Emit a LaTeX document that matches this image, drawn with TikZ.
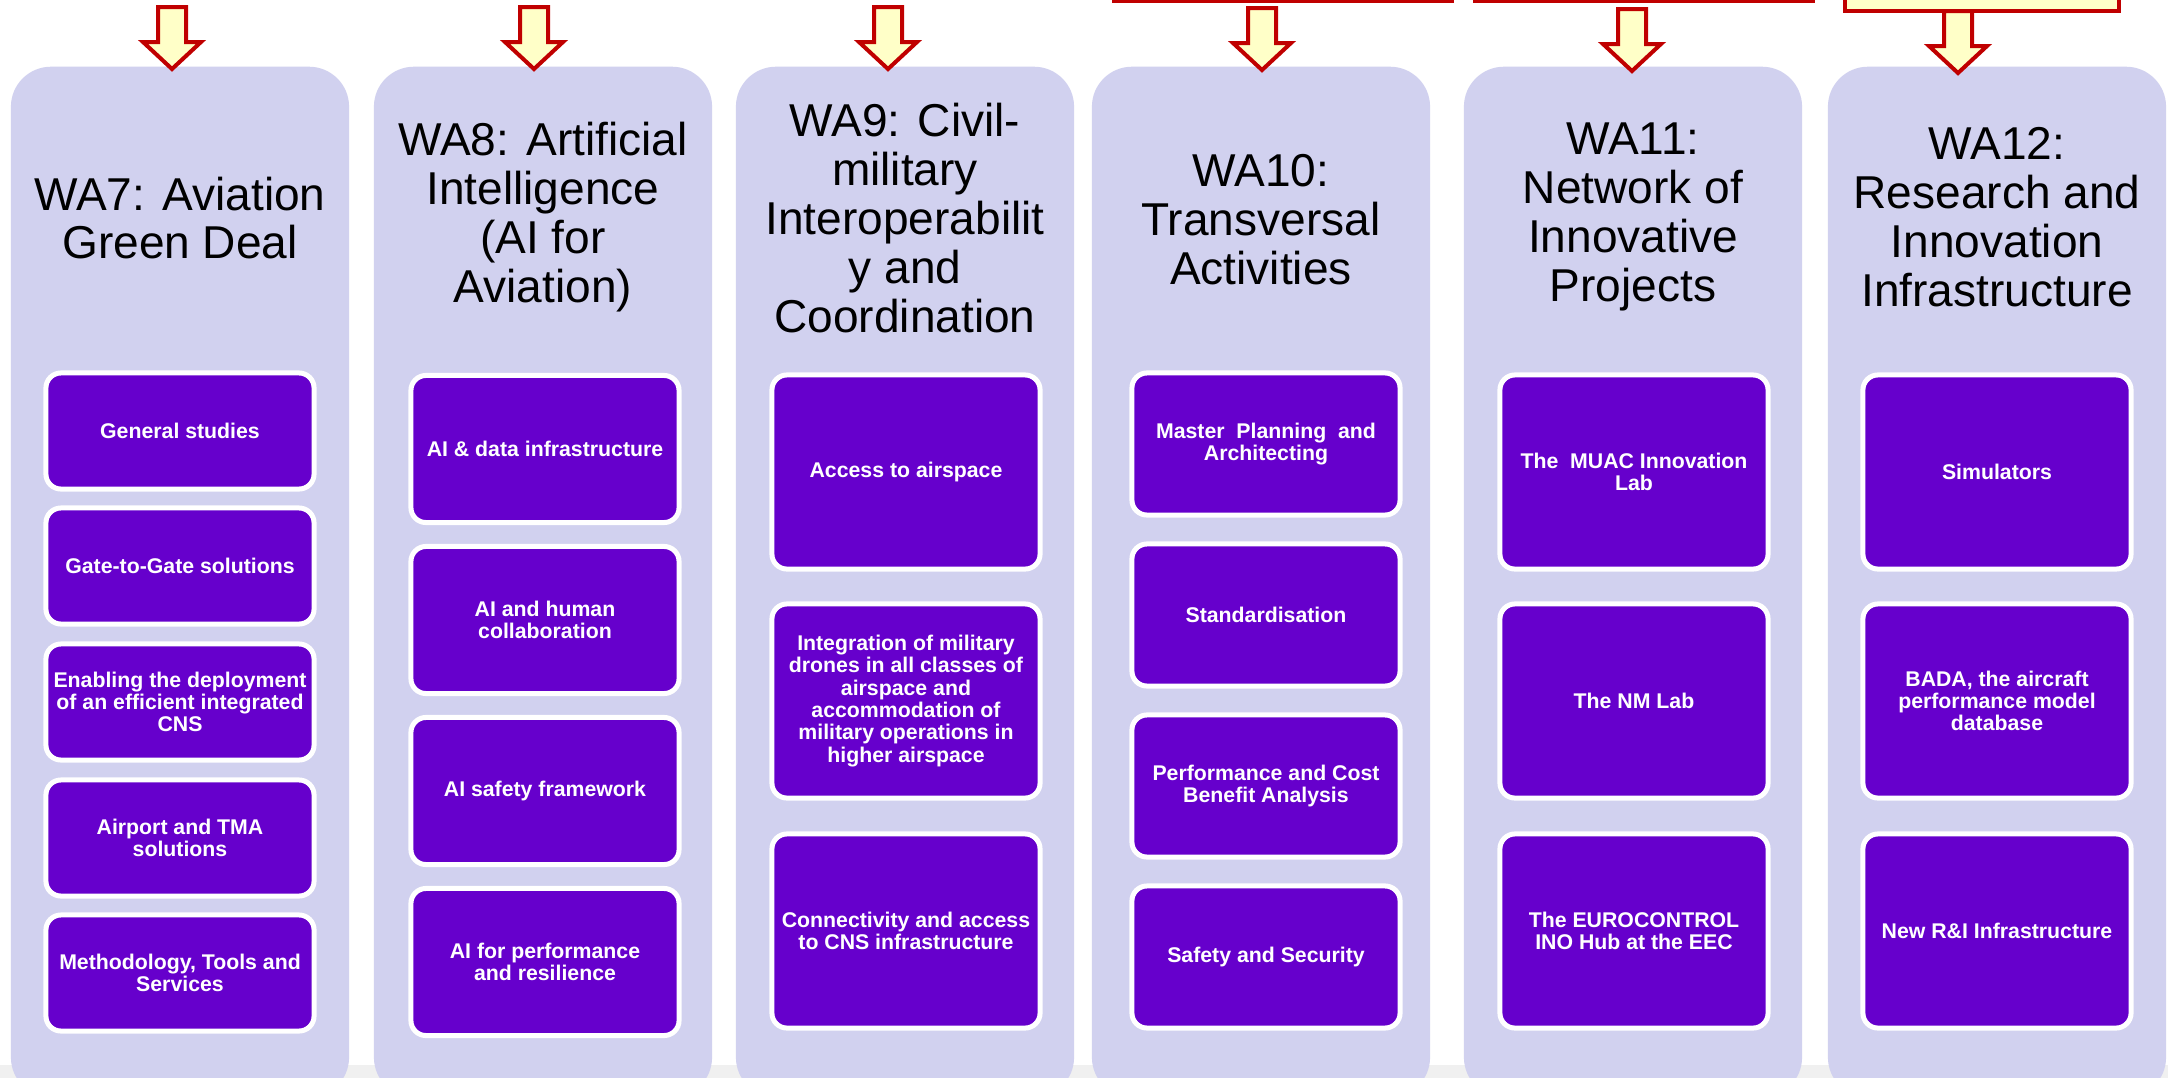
\documentclass[tikz,border=0pt]{standalone}
\usepackage{fontspec}
\setmainfont{Liberation Sans}
\usetikzlibrary{calc}
\definecolor{lavender}{HTML}{D1D1EF}
\definecolor{wapurple}{HTML}{6600CC}
\definecolor{arrowred}{HTML}{C00000}
\definecolor{arrowfill}{HTML}{FFFFC8}
\definecolor{stripgray}{HTML}{F0F0F0}
\tikzset{
  wacol/.style={fill=lavender, rounded corners=0.4cm, inner sep=0pt,
    minimum width=3.38cm, minimum height=10.3cm, anchor=north},
  watitle/.style={align=center, inner sep=0pt,
    font=\fontsize{13.1}{13.9}\selectfont},
  item/.style={fill=wapurple, draw=white, line width=0.05cm, rounded corners=0.15cm,
    minimum width=2.68cm, text=white, align=center, inner sep=1pt,
    font=\bfseries\fontsize{6.05}{6.35}\selectfont},
  topbox/.style={draw=arrowred, line width=0.04cm, minimum width=3.38cm,
    minimum height=0.9cm, anchor=south},
  pics/downarrow/.style={code={
    \draw[arrowred, fill=arrowfill, line width=0.04cm, line join=miter]
      (0,0) -- (-29,-27) -- (-14,-27) -- (-14,-62) -- (14,-62) -- (14,-27) -- (29,-27) -- cycle;
  }}
}
\begin{document}
\begin{tikzpicture}[x=0.01cm, y=-0.01cm]
\useasboundingbox (0,0) rectangle (2168,1078);
\clip (0,0) rectangle (2168,1078);
\fill[white] (0,0) rectangle (2168,1078);
\fill[stripgray] (0,1065) rectangle (2168,1078);

% work area columns
\node[wacol] (wa7) at (180,66) {};
\node[wacol] (wa8) at (543,66) {};
\node[wacol] (wa9) at (905,66) {};
\node[wacol] (wa10) at (1261,66) {};
\node[wacol] (wa11) at (1633,66) {};
\node[wacol] (wa12) at (1997,66) {};

% boxes above, cut off by the page
\node[topbox, fill=white] (srcA) at (1283,3) {};
\node[topbox, fill=white] (srcB) at (1644,3) {};
\node[topbox, fill=arrowfill, minimum width=2.74cm] (srcC) at (1982,13) {};

\pic at ($(wa7.north)+(-8,3)$) {downarrow};
\pic at ($(wa8.north)+(-9,3)$) {downarrow};
\pic at ($(wa9.north)+(-17,3)$) {downarrow};
\pic at ($(wa10.north)+(1,4)$) {downarrow};
\pic at ($(wa11.north)+(-1,5)$) {downarrow};
\pic at ($(wa12.north)+(-39,7)$) {downarrow};

% titles
\node[watitle] (t7) at (180,218) {WA7: Aviation\\Green Deal};
\node[watitle] (t8) at (543,217) {WA8: Artificial\\Intelligence\\(AI for\\Aviation)};
\node[watitle] (t9) at (905,218) {WA9: Civil-\\military\\Interoperabilit\\y and\\Coordination};
\node[watitle] (t10) at (1261,220) {WA10:\\Transversal\\Activities};
\node[watitle] (t11) at (1633,217) {WA11:\\Network of\\Innovative\\Projects};
\node[watitle] (t12) at (1997,217) {WA12:\\Research and\\Innovation\\Infrastructure};

% WA7
\node[item, minimum height=1.16cm] (wa7-1) at (180,431) {General studies};
\node[item, minimum height=1.16cm] (wa7-2) at (180,566) {Gate-to-Gate solutions};
\node[item, minimum height=1.16cm] (wa7-3) at (180,702) {Enabling the deployment\\of an efficient integrated\\CNS};
\node[item, minimum height=1.16cm] (wa7-4) at (180,838) {Airport and TMA\\solutions};
\node[item, minimum height=1.16cm] (wa7-5) at (180,973) {Methodology, Tools and\\Services};
% WA8
\node[item, minimum height=1.47cm] (wa8-1) at (545,449) {AI \& data infrastructure};
\node[item, minimum height=1.47cm] (wa8-2) at (545,620) {AI and human\\collaboration};
\node[item, minimum height=1.47cm] (wa8-3) at (545,791) {AI safety framework};
\node[item, minimum height=1.47cm] (wa8-4) at (545,962) {AI for performance\\and resilience};
% WA9
\node[item, minimum height=1.94cm] (wa9-1) at (906,472) {Access to airspace};
\node[item, minimum height=1.94cm] (wa9-2) at (906,701) {Integration of military\\drones in all classes of\\airspace and\\accommodation of\\military operations in\\higher airspace};
\node[item, minimum height=1.94cm] (wa9-3) at (906,931) {Connectivity and access\\to CNS infrastructure};
% WA10
\node[item, minimum height=1.42cm] (wa10-1) at (1266,444) {Master~ Planning~ and\\Architecting};
\node[item, minimum height=1.42cm] (wa10-2) at (1266,615) {Standardisation};
\node[item, minimum height=1.42cm] (wa10-3) at (1266,786) {Performance and Cost\\Benefit Analysis};
\node[item, minimum height=1.42cm] (wa10-4) at (1266,957) {Safety and Security};
% WA11
\node[item, minimum height=1.94cm] (wa11-1) at (1634,472) {The~ MUAC Innovation\\Lab};
\node[item, minimum height=1.94cm] (wa11-2) at (1634,701) {The NM Lab};
\node[item, minimum height=1.94cm] (wa11-3) at (1634,931) {The EUROCONTROL\\INO Hub at the EEC};
% WA12
\node[item, minimum height=1.94cm] (wa12-1) at (1997,472) {Simulators};
\node[item, minimum height=1.94cm] (wa12-2) at (1997,701) {BADA, the aircraft\\performance model\\database};
\node[item, minimum height=1.94cm] (wa12-3) at (1997,931) {New R\&I Infrastructure};
\end{tikzpicture}
\end{document}
